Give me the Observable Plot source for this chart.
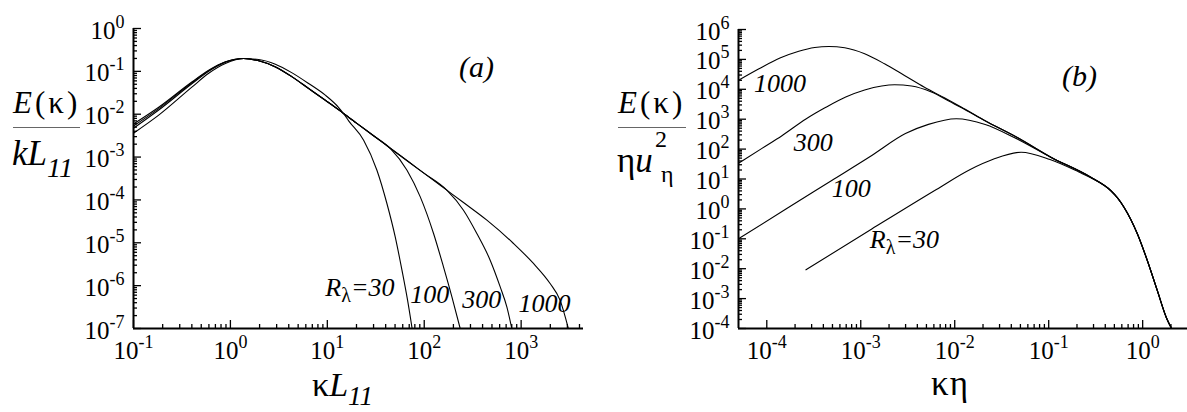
<!DOCTYPE html>
<html>
<head>
<meta charset="utf-8">
<script src="https://cdn.jsdelivr.net/npm/d3@7"></script>
<script src="https://cdn.jsdelivr.net/npm/@observablehq/plot@0.6"></script>
<style>
  html, body { margin: 0; padding: 0; background: #fff; }
  #fig { position: relative; width: 1187px; height: 412px; overflow: hidden; color: #000; }
  #fig svg { position: absolute; top: 0; }
  .t { position: absolute; line-height: 1; white-space: nowrap; }
  .sb { position: relative; }
  .bar { position: absolute; height: 0; border-top: 1px solid #666; }
</style>
</head>
<body>
<div id="fig"></div>
<script>
// ---------------------------------------------------------------
// Model spectra for four Taylor-scale Reynolds numbers
// ---------------------------------------------------------------
const reynolds = [30, 100, 300, 1000];

// (a) E(κ)/(k L11) against κL11
const kL_30   = [0.1, 0.182, 0.403, 0.597, 0.887, 1.37, 1.96, 2.91, 4.33, 6.41, 9.53, 13.1, 14.7, 16.6, 23.7, 32.5, 41.2, 50.2, 58.9, 67.3, 75];
const EkL_30  = [3.6e-3, 9.5e-3, 0.0434, 0.090, 0.152, 0.199, 0.189, 0.147, 0.0922, 0.0521, 0.0278, 0.0143, 0.0104, 7.0e-3, 2.48e-3, 4.94e-4, 8.26e-5, 1.37e-5, 2.3e-6, 4.58e-7, 1.0e-7];

const kL_100  = [0.1, 0.182, 0.403, 0.597, 0.887, 1.37, 1.96, 2.91, 4.33, 6.41, 9.53, 13.1, 14.7, 20, 30, 44.6, 66.4, 91, 124.8, 158, 193, 235];
const EkL_100 = [4.7e-3, 0.0125, 0.052, 0.101, 0.164, 0.200, 0.177, 0.128, 0.0745, 0.0400, 0.0213, 0.0127, 0.0104, 6.2e-3, 3.15e-3, 1.6e-3, 4.94e-4, 1.18e-4, 1.65e-5, 2.74e-6, 5.47e-7, 1.0e-7];

const kL_300  = [0.1, 0.182, 0.403, 0.597, 0.887, 1.37, 1.96, 2.91, 4.33, 6.41, 9.53, 13.1, 14.7, 20, 30, 45, 70, 100, 171, 254, 349, 479, 608, 712, 801];
const EkL_300 = [5.3e-3, 0.0135, 0.055, 0.104, 0.166, 0.200, 0.176, 0.127, 0.0743, 0.0398, 0.0212, 0.0127, 0.0104, 6.2e-3, 3.15e-3, 1.59e-3, 7.58e-4, 4.16e-4, 1.69e-4, 5.76e-5, 1.65e-5, 3.93e-6, 9.35e-7, 3.19e-7, 1.0e-7];

const kL_1000  = [0.1, 0.182, 0.403, 0.597, 0.887, 1.37, 1.96, 2.91, 4.33, 6.41, 9.53, 13.1, 14.7, 20, 30, 45, 70, 100, 171, 254, 443, 834, 1340, 1990, 2520, 3070];
const EkL_1000 = [5.9e-3, 0.0145, 0.057, 0.106, 0.167, 0.200, 0.176, 0.127, 0.0743, 0.0398, 0.0212, 0.0127, 0.0104, 6.2e-3, 3.15e-3, 1.59e-3, 7.58e-4, 4.16e-4, 1.69e-4, 8.7e-5, 3.37e-5, 9.63e-6, 3.29e-6, 1.12e-6, 4.58e-7, 1.0e-7];

// (b) E(κ)/(η u_η²) against κη
const keta_30  = [2.61e-4, 1.31e-3, 6.38e-3, 0.01462, 0.02564, 0.0508, 0.1033, 0.2094, 0.281, 0.458, 0.540, 0.634, 0.879, 1.122, 1.432, 1.80, 2.03];
const Eeta_30  = [9.18e-3, 0.213, 4.46, 20.8, 45.6, 78.7, 44.6, 17.1, 11.0, 4.03, 2.32, 1.12, 0.145, 0.0185, 1.84e-3, 2.17e-4, 1.0e-4];

const keta_100 = [5e-5, 1.60e-4, 4.91e-4, 1.31e-3, 2.99e-3, 5.25e-3, 0.0104, 0.0211, 0.0429, 0.1057, 0.281, 0.458, 0.540, 0.634, 0.879, 1.122, 1.432, 1.80, 2.03];
const Eeta_100 = [0.1, 0.993, 8.91, 61.1, 330, 670, 1030, 665, 244, 52.7, 11.3, 4.08, 2.33, 1.12, 0.145, 0.0185, 1.84e-3, 2.17e-4, 1.0e-4];

const keta_300 = [5e-5, 8.89e-5, 1.45e-4, 2.61e-4, 4.25e-4, 6.92e-4, 1.10e-3, 1.67e-3, 2.29e-3, 3.47e-3, 5.65e-3, 9.20e-3, 0.0117, 0.0208, 0.0469, 0.1057, 0.281, 0.458, 0.540, 0.634, 0.879, 1.122, 1.432, 1.80, 2.03];
const Eeta_300 = [33.7, 106, 281, 1016, 2500, 5520, 9480, 1.29e4, 1.42e4, 1.29e4, 8130, 3650, 2460, 900, 238, 53.4, 11.4, 4.1, 2.34, 1.13, 0.146, 0.0187, 1.86e-3, 2.2e-4, 1.0e-4];

const keta_1000 = [5e-5, 8.26e-5, 1.38e-4, 2.19e-4, 3.24e-4, 4.57e-4, 6.76e-4, 1.10e-3, 1.79e-3, 2.92e-3, 4.76e-3, 7.76e-3, 0.0117, 0.0208, 0.0469, 0.1057, 0.281, 0.458, 0.540, 0.634, 0.879, 1.122, 1.432, 1.80, 2.03];
const Eeta_1000 = [2.0e4, 4.85e4, 1.11e5, 1.88e5, 2.50e5, 2.70e5, 2.44e5, 1.54e5, 7.13e4, 2.90e4, 1.17e4, 5.20e3, 2.56e3, 906, 239, 53.6, 11.5, 4.12, 2.35, 1.14, 0.147, 0.0188, 1.87e-3, 2.2e-4, 1.0e-4];

// Curve labels (text and anchor in data units)
const labelText = ["R_{λ}=30", "100", "300", "1000"];
const labelXA = [9.53, 71.8, 247, 937];
const labelYA = [5.68e-7, 3.9e-7, 2.93e-7, 2.44e-7];
const labelXB = [1.25e-3, 4.91e-4, 1.94e-4, 7.31e-5];
const labelYB = [0.0474, 2.46, 89.7, 8000];

// Decade exponents carrying tick labels
const expXA = [-1, 0, 1, 2, 3];
const expYA = [-7, -6, -5, -4, -3, -2, -1, 0];
const expXB = [-4, -3, -2, -1, 0];
const expYB = [-4, -3, -2, -1, 0, 1, 2, 3, 4, 5, 6];

// ---------------------------------------------------------------
const SERIF = "Liberation Serif";
const rowsOf = (xs, ys, re) => xs.map((x, i) => ({re, x, y: ys[i]}));

const rowsA = [
  ...rowsOf(kL_30, EkL_30, 30), ...rowsOf(kL_100, EkL_100, 100),
  ...rowsOf(kL_300, EkL_300, 300), ...rowsOf(kL_1000, EkL_1000, 1000)
];
const rowsB = [
  ...rowsOf(keta_30, Eeta_30, 30), ...rowsOf(keta_100, Eeta_100, 100),
  ...rowsOf(keta_300, Eeta_300, 300), ...rowsOf(keta_1000, Eeta_1000, 1000)
];
const labelsA = labelText.map((text, i) => ({text, x: labelXA[i], y: labelYA[i]}));
const labelsB = labelText.map((text, i) => ({text, x: labelXB[i], y: labelYB[i]}));

const pow10 = (e) => +(`1e${e}`);
const expLabel = (d) => `10^{${Math.round(Math.log10(d))}}`;

// intermediate ticks 2..9 × 10^n, starting at the first labelled decade
function minorTicks(domain, firstExp) {
  const out = [];
  const lo = pow10(firstExp), hi = domain[1];
  for (let e = firstExp; e <= Math.ceil(Math.log10(hi)); e++)
    for (let k = 2; k <= 9; k++) {
      const v = k * pow10(e);
      if (v > lo && v < hi * 0.999) out.push(v);
    }
  return out;
}

// inward ticks, decade labels and the two thick axis lines
function logFrame(xDomain, yDomain, xExp, yExp) {
  const xMaj = xExp.map(pow10), yMaj = yExp.map(pow10);
  const txt = {fontSize: 25, fontFamily: SERIF, label: null};
  return [
    Plot.axisX(xMaj, {anchor: "bottom", tickSize: -8, strokeWidth: 1.3, fill: "none", label: null}),
    Plot.axisX(minorTicks(xDomain, xExp[0]), {anchor: "bottom", tickSize: -4, strokeWidth: 1.3, fill: "none", label: null}),
    Plot.axisX(xMaj, {anchor: "bottom", tickSize: 0, tickPadding: 13, tickFormat: expLabel, ...txt}),
    Plot.axisY(yMaj, {anchor: "left", tickSize: -8, strokeWidth: 1.3, fill: "none", label: null}),
    Plot.axisY(minorTicks(yDomain, yExp[0]), {anchor: "left", tickSize: -4, strokeWidth: 1.3, fill: "none", label: null}),
    Plot.axisY(yMaj, {anchor: "left", tickSize: 0, tickPadding: 9, dy: 2, tickFormat: expLabel, ...txt}),
    Plot.ruleX([xDomain[0]], {strokeWidth: 2}),
    Plot.ruleY([yDomain[0]], {strokeWidth: 2})
  ];
}

// "a^{b}" / "a_{b}" markup -> tspans with shifted baselines
function richText(el, str, o) {
  el.textContent = "";
  const re = /([_^])\{([^}]*)\}|([^_^]+)/g;
  let m;
  while ((m = re.exec(str))) {
    const ts = document.createElementNS("http://www.w3.org/2000/svg", "tspan");
    if (m[3] !== undefined) ts.textContent = m[3];
    else {
      ts.textContent = m[2];
      const sup = m[1] === "^";
      ts.setAttribute("font-size", sup ? o.supSize : o.subSize);
      ts.setAttribute("baseline-shift", sup ? o.supShift : -o.subShift);
      if (!sup) ts.setAttribute("font-style", "normal");
    }
    el.appendChild(ts);
  }
}
function applyRich(svg) {
  svg.querySelectorAll("text").forEach((el) => {
    el.style.fontFamily = SERIF;
    const s = el.textContent;
    if (!/[_^]\{/.test(s)) return;
    if (s.startsWith("10^")) richText(el, s, {supSize: 18, supShift: 11});
    else richText(el, s, {subSize: 20, subShift: 6});
  });
}

function panel({width, marginLeft, marginRight, marginTop, xDomain, yDomain, xExp, yExp, rows, labels}) {
  const svg = Plot.plot({
    width, height: 412,
    marginLeft, marginRight, marginTop, marginBottom: 412 - 328,
    x: {type: "log", domain: xDomain},
    y: {type: "log", domain: yDomain},
    style: {fontFamily: SERIF, color: "#000", background: "transparent", overflow: "visible"},
    marks: [
      Plot.line(rows, {x: "x", y: "y", z: "re", curve: "monotone-x", stroke: "#000", strokeWidth: 1.1}),
      ...logFrame(xDomain, yDomain, xExp, yExp),
      Plot.text(labels, {x: "x", y: "y", text: "text", textAnchor: "start", lineAnchor: "bottom",
                         fontSize: 26, fontStyle: "italic", fontFamily: SERIF, fill: "#000"})
    ]
  });
  applyRich(svg);
  return svg;
}

const fig = document.getElementById("fig");
fig.style.fontFamily = SERIF;

const svgA = panel({
  width: 590, marginLeft: 133, marginRight: 7, marginTop: 28,
  xDomain: [0.1, 4400], yDomain: [1e-7, 1], xExp: expXA, yExp: expYA,
  rows: rowsA, labels: labelsA
});
svgA.style.left = "0px";
fig.appendChild(svgA);

const svgB = panel({
  width: 597, marginLeft: 148, marginRight: 0, marginTop: 29,
  xDomain: [5e-5, 3], yDomain: [1e-4, 1e6], xExp: expXB, yExp: expYB,
  rows: rowsB, labels: labelsB
});
svgB.style.left = "590px";
fig.appendChild(svgB);

// ---------------------------------------------------------------
// Axis titles and panel letters
// ---------------------------------------------------------------
function title(html, left, baseline, size, spacing = 0) {
  const d = document.createElement("div");
  d.className = "t";
  d.style.fontFamily = SERIF;
  d.style.left = left + "px";
  d.style.top = (baseline - 0.8375 * size) + "px";
  d.style.fontSize = size + "px";
  d.style.letterSpacing = spacing + "px";
  d.innerHTML = html;
  fig.appendChild(d);
}
function bar(left, top, width) {
  const d = document.createElement("div");
  d.className = "bar";
  d.style.left = left + "px";
  d.style.top = top + "px";
  d.style.width = width + "px";
  fig.appendChild(d);
}

// panel (a)
title('<i>E</i>(κ)', 13, 113, 31, 3);
bar(13, 127, 67);
title('<i>kL<span class="sb" style="top:12px;font-size:28px">11</span></i>', 12, 165, 35);
title('κ<i>L<span class="sb" style="top:9px;font-size:27px">11</span></i>', 312, 396, 34);
title('<i>(a)</i>', 459, 77, 30);

// panel (b)
title('<i>E</i>(κ)', 618, 113, 31, 3);
bar(618, 127, 68);
title('η<i>u</i>', 617, 172, 35);
title('2', 655, 147, 24);
title('η', 661, 182, 24);
title('κη', 931, 395, 35, 1);
title('<i>(b)</i>', 1062, 86, 30);
</script>
</body>
</html>
